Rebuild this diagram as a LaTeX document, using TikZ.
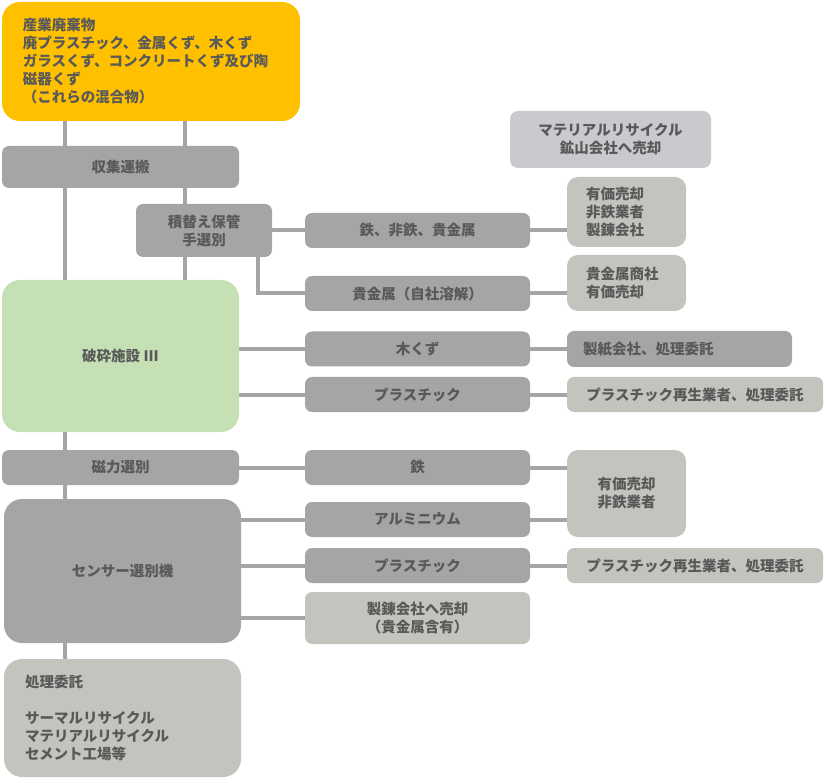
\documentclass[tikz,border=0pt]{standalone}
\usepackage{fontspec}
\setmainfont{Noto Sans CJK JP}
\usepackage{xcolor}
\usepackage{tikz}
\usetikzlibrary{positioning}

\definecolor{wasteyellow}{HTML}{FFC000}
\definecolor{crushgreen}{HTML}{C5E0B4}
\definecolor{stepgray}{HTML}{A5A5A5}
\definecolor{exitgray}{HTML}{C4C3BE}
\definecolor{minegray}{HTML}{C9C9CE}
\definecolor{linegray}{HTML}{A5A5A5}
\definecolor{txtgray}{HTML}{595959}

\begin{document}
\begin{tikzpicture}[x=1pt,y=-1pt]

\tikzset{box/.style = {shape=rectangle,inner sep=0pt,align=center,text=txtgray,
  font=\fontsize{14.5}{18}\selectfont\bfseries}}
\tikzset{stepbox/.style = {box,fill=stepgray,rounded corners=7pt}}
\tikzset{exitbox/.style = {box,fill=exitgray,rounded corners=7pt}}
\tikzset{bigbox/.style = {box,rounded corners=18pt,minimum width=237pt}}
\tikzset{midbox/.style = {stepbox,minimum width=225pt,minimum height=35pt}}
\tikzset{edge/.style = {draw=linegray,line width=4pt}}

\useasboundingbox (0,0) rectangle (827,783);

% vertices
\node[bigbox,fill=wasteyellow,minimum width=298pt,minimum height=119pt,
  text width=256pt,align=left] (waste) at (151,61.5)
  {産業廃棄物\\廃プラスチック、金属くず、木くず\\ガラスくず、コンクリートくず及び陶\\磁器くず\\（これらの混合物）};
\node[stepbox,minimum width=237pt,minimum height=42pt] (collect) at (120.5,167) {収集運搬};
\node[stepbox,minimum width=136pt,minimum height=53pt] (store) at (204,230.5) {積替え保管\\手選別};
\node[box,fill=minegray,rounded corners=8pt,minimum width=201pt,minimum height=57pt] (mine) at (610.5,139.5)
  {マテリアルリサイクル\\鉱山会社へ売却};

\node[midbox] (metals) at (417.5,230.5) {鉄、非鉄、貴金属};
\node[midbox] (precious) at (417.5,293.5) {貴金属（自社溶解）};
\node[exitbox,rounded corners=11pt,minimum width=119pt,minimum height=70pt,
  text width=81pt,align=left] (sellA) at (626.5,212) {有価売却\\非鉄業者\\製錬会社};
\node[exitbox,rounded corners=11pt,minimum width=119pt,minimum height=56pt,
  text width=81pt,align=left] (dealer) at (626.5,283) {貴金属商社\\有価売却};

\node[bigbox,fill=crushgreen,minimum height=152pt] (crush) at (120.5,356) {破砕施設 III};
\node[midbox] (wood) at (417.5,349) {木くず};
\node[midbox] (plasticA) at (417.5,394.5) {プラスチック};
\node[stepbox,minimum width=225pt,minimum height=36pt,text width=193pt,align=left] (paper) at (679.5,349)
  {製紙会社、処理委託};
\node[exitbox,minimum width=256pt,minimum height=35pt] (recycA) at (695,394.5)
  {プラスチック再生業者、処理委託};

\node[stepbox,minimum width=237pt,minimum height=35pt] (magnet) at (120.5,467.5) {磁力選別};
\node[midbox] (iron) at (417.5,467.5) {鉄};
\node[exitbox,rounded corners=11pt,minimum width=119pt,minimum height=87pt] (sellB) at (626.5,493.5)
  {有価売却\\非鉄業者};

\node[bigbox,fill=stepgray,minimum height=144pt] (sensor) at (122.5,571) {センサー選別機};
\node[midbox] (alu) at (417.5,519.5) {アルミニウム};
\node[midbox] (plasticB) at (417.5,565.5) {プラスチック};
\node[exitbox,minimum width=225pt,minimum height=52pt] (smelter) at (417.5,618) {製錬会社へ売却\\（貴金属含有）};
\node[exitbox,minimum width=256pt,minimum height=35pt] (recycB) at (695,565.5)
  {プラスチック再生業者、処理委託};

\node[bigbox,fill=exitgray,minimum height=118pt,text width=195pt,align=left] (entrust) at (122.5,718)
  {処理委託\\[18pt]サーマルリサイクル\\マテリアルリサイクル\\セメント工場等};

%edges
\draw[edge] ([xshift=63pt]waste.south west) -- ([xshift=63pt]collect.north west);
\draw[edge] ([xshift=183pt]waste.south west) -- ([xshift=183pt]collect.north west);
\draw[edge] ([xshift=63pt]collect.south west) -- ([xshift=63pt]crush.north west);
\draw[edge] ([xshift=183pt]collect.south west) -- ([xshift=49pt]store.north west);
\draw[edge] ([xshift=49pt]store.south west) -- ([xshift=183pt]crush.north west);
\draw[edge] (store.east) -- (metals.west);
\draw[edge] ([xshift=-14pt]store.south east) |- (precious.west);
\draw[edge] (metals.east) -- (metals.east -| sellA.west);
\draw[edge] (precious.east) -- (precious.east -| dealer.west);
\draw[edge] (wood.west -| crush.east) -- (wood.west);
\draw[edge] (plasticA.west -| crush.east) -- (plasticA.west);
\draw[edge] (wood.east) -- (paper.west);
\draw[edge] (plasticA.east) -- (recycA.west);
\draw[edge] ([xshift=63pt]crush.south west) -- ([xshift=63pt]magnet.north west);
\draw[edge] ([xshift=63pt]magnet.south west) -- ([xshift=61pt]sensor.north west);
\draw[edge] ([xshift=61pt]sensor.south west) -- ([xshift=61pt]entrust.north west);
\draw[edge] (magnet.east) -- (iron.west);
\draw[edge] (iron.east) -- (iron.east -| sellB.west);
\draw[edge] (alu.west -| sensor.east) -- (alu.west);
\draw[edge] (plasticB.west -| sensor.east) -- (plasticB.west);
\draw[edge] (smelter.west -| sensor.east) -- (smelter.west);
\draw[edge] (alu.east) -- (alu.east -| sellB.west);
\draw[edge] (plasticB.east) -- (recycB.west);
\end{tikzpicture}
\end{document}
